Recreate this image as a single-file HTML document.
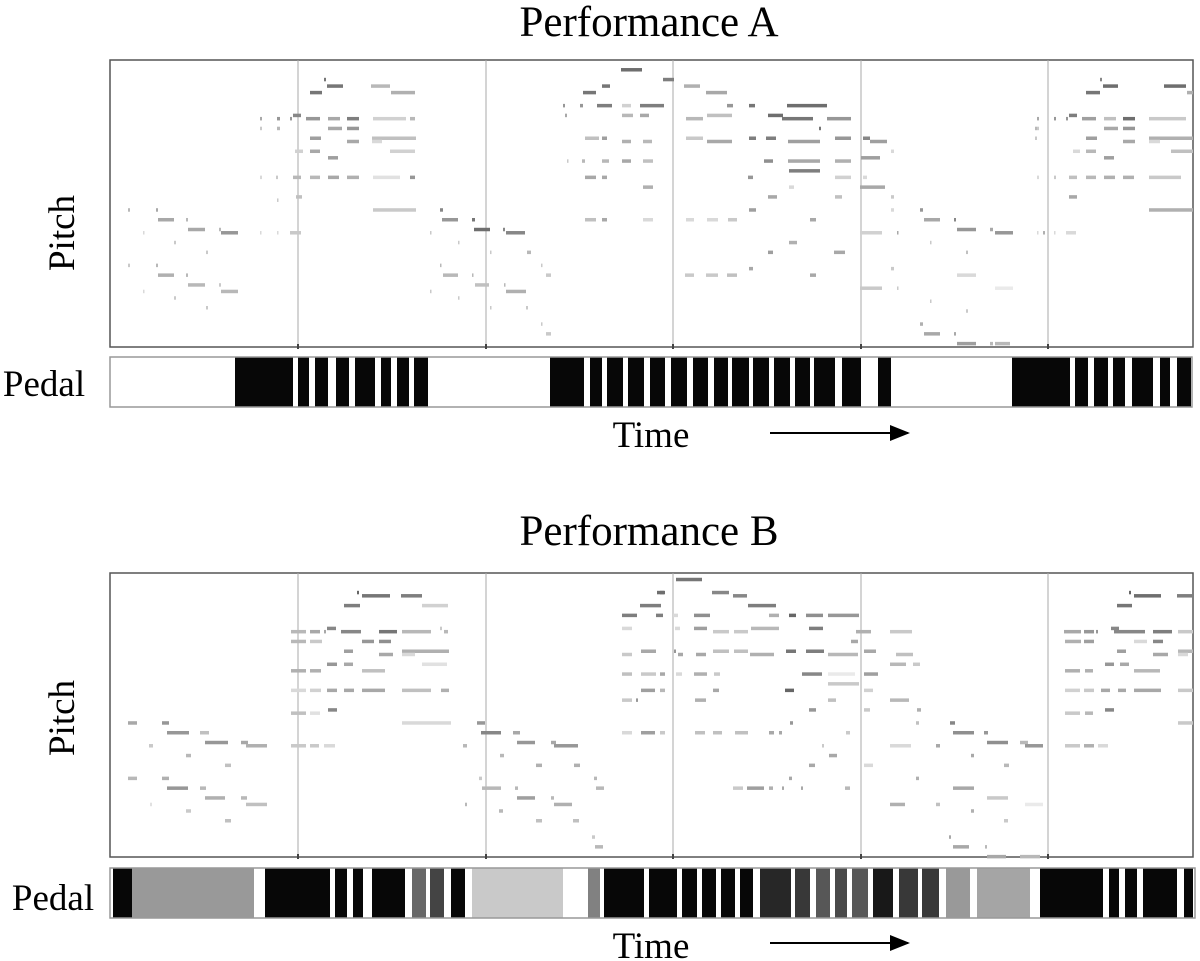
<!DOCTYPE html>
<html><head><meta charset="utf-8"><style>
html,body{margin:0;padding:0;background:#fff;}
svg{display:block;font-family:"Liberation Serif",serif;}
</style></head><body>
<svg id="chart" width="1200" height="961" viewBox="0 0 1200 961">
<defs><marker id="ah" markerWidth="10" markerHeight="8" refX="9" refY="4" orient="auto"><path d="M0,0 L10,4 L0,8 Z" fill="#000"/></marker></defs>
<g id="panelA">
<text x="649" y="36" font-size="43" text-anchor="middle">Performance A</text>
<text transform="translate(74,233) rotate(-90)" font-size="37" text-anchor="middle">Pitch</text>
<text x="44" y="396" font-size="37" text-anchor="middle">Pedal</text>
<text x="651" y="447" font-size="37" text-anchor="middle">Time</text>
<line x1="770" y1="433" x2="908" y2="433" stroke="#000" stroke-width="2" marker-end="url(#ah)"/>
</g>
<g id="panelB">
<text x="649" y="545" font-size="43" text-anchor="middle">Performance B</text>
<text transform="translate(74,718) rotate(-90)" font-size="37" text-anchor="middle">Pitch</text>
<text x="53" y="910" font-size="37" text-anchor="middle">Pedal</text>
<text x="651" y="958" font-size="37" text-anchor="middle">Time</text>
<line x1="770" y1="943" x2="908" y2="943" stroke="#000" stroke-width="2" marker-end="url(#ah)"/>
</g>
</svg>
<script>
// notes: [start, end, pitch, velocity]
const notesA = [
[18,20,62,.4],[46,48,62,.5],[48,64,59,.5],[76,78,59,.4],[78,95,56,.5],[109,111,56,.4],[111,128,55,.6],[64,66,52,.3],[96,98,49,.3],
[18,20,45,.3],[46,48,45,.4],[48,64,42,.45],[76,78,42,.4],[78,95,39,.4],[109,111,39,.3],[111,128,37,.4],[64,66,35,.3],[96,98,32,.3],[33,34,55,.2],[33,34,37,.2],
[214,216,102,.8],[217,233,100,.8],[200,212,98,.8],[261,280,100,.4],[281,305,98,.45],[183,191,91,.7],
[150,152,90,.5],[167,170,90,.6],[180,182,90,.6],[196,210,90,.6],[218,230,90,.5],[237,249,90,.75],[263,296,90,.25],[300,305,90,.4],
[150,152,87,.3],[167,170,87,.4],[218,232,87,.5],[237,249,87,.6],[200,211,84,.55],[262,306,84,.35],[237,249,83,.5],[262,272,83,.2],
[185,193,80,.25],[200,210,80,.5],[280,305,80,.25],[218,228,78,.55],
[150,152,72,.2],[166,168,72,.3],[183,191,72,.4],[200,210,72,.4],[218,229,72,.5],[237,249,72,.45],[263,290,72,.15],[300,305,72,.6],
[186,192,66,.35],[167,168,65,.3],[263,306,62,.3],[150,151,55,.2],[167,168,55,.2],[180,191,55,.3],
[330,333,62,.7],[332,348,59,.6],[362,365,59,.8],[364,380,56,.85],[393,395,56,.7],[396,415,55,.7],[320,321,55,.3],[348,349,52,.3],[380,381,49,.3],[417,421,49,.4],
[330,331,45,.4],[333,348,42,.4],[362,363,42,.4],[365,379,39,.35],[394,395,39,.4],[396,416,37,.45],[320,321,37,.3],[348,349,35,.3],[380,381,32,.3],[416,418,32,.3],[431,432,27,.3],[436,441,24,.3],[431,432,45,.3],[436,441,42,.3],
[453,455,94,.6],[470,473,94,.6],[487,502,94,.75],[512,521,94,.25],[530,554,94,.75],[455,457,91,.5],[512,523,91,.4],[530,539,91,.5],
[475,489,84,.35],[492,497,84,.55],[512,521,83,.45],[533,542,83,.4],[457,458,77,.3],[472,475,77,.4],[492,499,77,.4],[512,521,77,.5],[533,543,77,.35],
[475,486,72,.5],[492,497,72,.5],[533,543,69,.45],[475,486,59,.35],[492,497,59,.5],[533,543,59,.2],[473,486,98,.8],[492,500,100,.8],[511,532,105,.85],
[553,564,102,.75],[574,590,100,.45],[596,617,98,.5],[617,623,94,.6],[639,645,94,.8],[677,717,94,.85],[597,622,91,.35],[658,673,91,.85],
[576,593,90,.4],[672,703,90,.8],[717,741,90,.6],[709,711,87,.8],[576,593,84,.3],[639,646,84,.75],[656,666,84,.75],[725,741,84,.6],
[597,622,83,.5],[678,710,83,.55],[654,663,77,.65],[678,710,77,.5],[725,741,77,.45],[679,710,74,.75],[638,643,72,.6],[725,741,72,.25],
[679,684,69,.2],[658,667,66,.5],[725,732,66,.35],[639,646,62,.55],[576,584,59,.2],[597,608,59,.2],[618,627,59,.3],[700,706,59,.5],
[679,687,52,.45],[658,663,49,.55],[724,735,49,.5],[639,643,44,.5],[575,584,42,.3],[596,608,42,.3],[617,627,42,.35],[700,706,42,.5],
[753,760,84,.7],[760,777,83,.55],[781,784,80,.2],[751,770,78,.55],[753,757,72,.2],[750,775,69,.5],[781,784,66,.3],[781,784,62,.2],[810,813,62,.6],
[814,830,59,.5],[844,846,59,.7],[847,866,56,.6],[880,883,56,.5],[750,772,55,.25],[787,788,55,.5],[885,903,55,.6],[933,935,55,.45],
[820,821,52,.3],[856,858,49,.35],[781,784,44,.3],[847,866,42,.2],[750,772,38,.3],[787,788,38,.3],[885,903,38,.1],[820,821,34,.3],[856,858,31,.3],
[810,813,27,.45],[814,830,24,.5],[844,846,24,.5],[847,866,21,.55],[880,883,21,.4],[885,900,21,.4],[925,927,87,.4],[925,927,84,.3],
[990,992,102,.7],[993,1008,100,.85],[1054,1076,100,.85],[976,990,98,.8],[1077,1083,98,.45],[959,967,91,.75],
[927,929,90,.5],[944,946,90,.6],[956,958,90,.6],[972,986,90,.55],[994,1006,90,.35],[1013,1025,90,.85],[1039,1076,90,.3],
[927,929,87,.3],[994,1008,87,.5],[1013,1025,87,.6],[976,987,84,.55],[1039,1083,84,.45],[1013,1025,83,.5],[1039,1050,83,.2],
[963,970,80,.2],[976,986,80,.4],[1061,1083,80,.35],[994,1004,78,.55],
[927,929,72,.2],[944,946,72,.3],[959,967,72,.35],[976,986,72,.4],[994,1005,72,.45],[1013,1024,72,.45],[1039,1071,72,.3],
[959,967,66,.5],[1039,1083,62,.45],[927,928,55,.2],[944,945,55,.2],[956,966,55,.2]
];
const notesB = [
[18,27,62,.5],[52,59,62,.6],[57,79,59,.6],[90,99,59,.35],[95,118,56,.6],[131,138,56,.5],[136,157,55,.45],[39,43,55,.3],[76,81,52,.4],[115,121,49,.35],
[18,27,45,.4],[52,59,45,.45],[57,78,42,.6],[90,96,42,.4],[95,115,39,.45],[131,137,39,.4],[136,157,37,.35],[40,42,37,.15],[76,81,35,.3],[115,121,32,.35],
[247,249,102,.9],[252,280,101,.8],[291,312,101,.75],[234,250,98,.75],[312,338,98,.25],[217,226,91,.7],[330,332,91,.3],
[181,196,90,.4],[200,210,90,.5],[214,216,90,.5],[231,251,90,.7],[269,287,90,.8],[292,321,90,.4],[334,338,90,.4],
[181,196,87,.4],[200,212,87,.3],[252,264,87,.6],[269,281,87,.65],[234,243,84,.55],[292,339,84,.45],[269,283,83,.5],[292,305,83,.2],
[217,227,80,.6],[234,243,80,.5],[312,337,80,.15],[181,196,78,.45],[200,211,78,.45],[252,275,78,.35],
[181,196,72,.2],[200,211,72,.25],[217,227,72,.5],[234,244,72,.5],[252,275,72,.5],[292,321,72,.35],[331,339,72,.45],
[218,227,66,.7],[181,196,65,.35],[200,210,65,.15],[292,341,62,.2],[181,196,55,.3],[200,209,55,.3],[214,225,55,.2],
[367,375,62,.6],[371,391,59,.7],[403,410,59,.5],[407,425,56,.6],[441,446,56,.5],[444,468,55,.6],[353,357,55,.4],[390,394,52,.4],[426,432,49,.45],[464,470,49,.45],
[369,372,45,.3],[372,391,42,.4],[405,408,42,.4],[407,425,39,.55],[441,444,39,.4],[444,462,37,.45],[355,357,37,.4],[389,393,35,.4],[426,432,32,.35],[463,469,32,.35],[482,485,27,.3],[485,493,24,.4],[484,487,45,.4],[486,494,42,.4],
[547,555,102,.85],[530,551,98,.75],[512,527,95,.75],[546,553,95,.75],[512,522,91,.2],[531,546,84,.5],[512,522,83,.3],
[512,522,77,.35],[531,546,77,.3],[550,555,77,.5],[531,545,72,.55],[550,555,72,.4],[512,522,69,.3],[526,528,69,.6],[512,522,59,.2],[531,545,59,.55],[550,555,59,.3],
[566,592,106,.8],[550,554,102,.85],[602,619,102,.7],[623,637,101,.7],[638,666,98,.75],
[563,568,95,.2],[584,600,95,.65],[659,669,95,.45],[679,686,95,.9],[696,713,95,.65],[718,749,95,.6],
[565,570,91,.2],[584,597,91,.55],[641,669,91,.4],[699,713,91,.75],[603,619,90,.3],[624,638,90,.3],[746,761,90,.45],[741,748,87,.5],
[564,566,84,.6],[603,619,84,.35],[624,638,84,.35],[676,686,84,.8],[696,714,84,.75],[754,766,84,.5],
[568,573,83,.5],[586,596,83,.5],[640,664,83,.45],[718,748,83,.4],
[566,572,77,.2],[584,597,77,.45],[604,610,77,.3],[692,712,77,.7],[718,745,77,.1],[754,768,77,.55],[718,749,74,.3],
[603,609,72,.5],[675,684,72,.9],[754,763,72,.25],[585,596,69,.45],[718,726,69,.35],[699,706,66,.6],[754,760,66,.3],[680,683,62,.6],
[585,595,59,.35],[603,612,59,.35],[625,638,59,.35],[659,664,59,.5],[669,672,59,.5],[736,740,59,.3],[712,714,55,.3],[719,727,52,.5],
[699,705,49,.5],[754,763,49,.2],[679,682,45,.5],[623,633,42,.3],[637,654,42,.55],[659,663,42,.45],[672,674,42,.5],[691,693,42,.5],[735,740,42,.4],
[780,802,90,.3],[786,803,83,.35],[780,796,80,.4],[803,810,80,.3],[780,799,69,.4],[807,811,66,.45],[806,809,62,.35],[840,845,62,.7],
[843,864,59,.65],[874,878,59,.6],[877,898,56,.65],[910,918,56,.4],[780,801,55,.2],[826,830,55,.5],[915,933,55,.6],[861,864,52,.5],[894,899,49,.4],
[806,809,45,.45],[843,864,42,.5],[877,898,39,.3],[780,795,37,.45],[826,830,37,.35],[915,933,37,.1],[861,864,35,.45],[894,898,32,.3],
[839,841,27,.5],[843,859,24,.5],[875,877,24,.4],[877,896,21,.5],[910,915,21,.4],[915,930,21,.4],
[1019,1021,102,.9],[1024,1051,101,.85],[1067,1083,101,.75],[1007,1022,98,.8],[1001,1009,91,.7],
[954,971,90,.5],[974,984,90,.6],[986,988,90,.6],[1004,1035,90,.7],[1043,1062,90,.75],[1068,1083,90,.3],
[955,971,87,.45],[974,984,87,.55],[1024,1037,87,.2],[1043,1053,87,.7],[1007,1016,84,.55],[1068,1083,84,.4],[1043,1058,83,.5],[1068,1078,83,.2],
[995,1004,80,.6],[1010,1019,80,.5],[955,970,78,.45],[975,983,78,.45],[1024,1050,78,.4],
[955,970,72,.25],[974,984,72,.3],[991,1000,72,.5],[1008,1016,72,.5],[1024,1051,72,.5],[1068,1083,72,.3],
[995,1004,66,.7],[955,970,65,.3],[975,983,65,.4],[1068,1083,62,.3],[955,970,55,.3],[974,984,55,.45],[988,998,55,.2]
];
// pedal segments: [start, end, depth]
const pedalA = [[125,183,1],[188,199,1],[205,218,1],[226,239,1],[245,265,1],[271,281,1],[287,299,1],[304,318,1],
[440,474,1],[480,492,1],[497,513,1],[518,534,1],[540,555,1],[561,577,1],[583,598,1],[604,618,1],[622,639,1],[643,659,1],[664,680,1],[685,700,1],[704,725,1],[732,751,1],[768,781,1],
[902,960,1],[965,978,1],[984,998,1],[1003,1015,1],[1022,1043,1],[1050,1060,1],[1067,1081,1]];
const pedalB = [[3,22,1],[22,144,.4],[155,220,1],[225,237,1],[243,253,1],[262,295,1],[302,316,.6],[320,334,.75],[341,355,1],[362,453,.2],
[478,490,.5],[494,534,1],[539,567,1],[572,587,1],[592,606,1],[611,625,1],[630,643,1],[650,681,.87],[685,700,.8],[706,720,.67],[725,737,.73],
[742,758,.67],[763,783,.93],[789,808,.8],[812,829,.8],[836,860,.4],[867,920,.35],[930,993,1],[999,1009,1],[1015,1027,1],[1033,1067,1],[1074,1083,1]];
const barLines = [188,376,563,751,938];

const NS = 'http://www.w3.org/2000/svg';
const svg = document.getElementById('chart');
const x = t => 110 + t;
const yA = p => 60 + (108 - p) * 3.26;
function mk(tag, attrs, parent){const e=document.createElementNS(NS,tag);for(const k in attrs)e.setAttribute(k,attrs[k]);parent.appendChild(e);return e;}
function drawPanel(id, top, bottom, notes, pedal, pTop, pH, pRight, label){
  const g = document.getElementById(id);
  const off = top - 60;
  const roll = mk('g',{},g);
  
  
  const box = mk('rect',{x:110,y:top,width:1083,height:bottom-top,fill:'#fff',stroke:'#555','stroke-width':1.5},roll);
  
  
  barLines.forEach(b=>{
    const l = mk('line',{x1:x(b),x2:x(b),y1:top,y2:bottom,stroke:'#aaa','stroke-width':1},roll);
    
    
    const tk = mk('rect',{x:x(b)-1,y:bottom-3,width:2,height:5,fill:'#444'},roll);
    
    
  });
  notes.forEach(n=>{
    const c = Math.round(250 - n[3]*165);
    const r = mk('rect',{x:x(n[0]),y:yA(n[2])+off-1.75,width:Math.max(1.5,n[1]-n[0]),height:3.5,fill:`rgb(${c},${c},${c})`},roll);
    
    
  });
  const pg = mk('g',{},g);
  
  
  mk('rect',{x:110,y:pTop,width:pRight-110,height:pH,fill:'#fff'},pg);
  pedal.forEach(s=>{
    const c = Math.round(250 - s[2]*243);
    const r = mk('rect',{x:x(s[0]),y:pTop,width:s[1]-s[0],height:pH,fill:`rgb(${c},${c},${c})`},pg);
    
    
  });
  mk('rect',{x:110,y:pTop,width:pRight-110,height:pH,fill:'none',stroke:'#999','stroke-width':1.5},pg);
}
drawPanel('panelA', 60, 347, notesA, pedalA, 357, 50, 1192, 'a');
drawPanel('panelB', 573, 857, notesB, pedalB, 868, 50, 1195, 'b');
</script>
</body></html>
